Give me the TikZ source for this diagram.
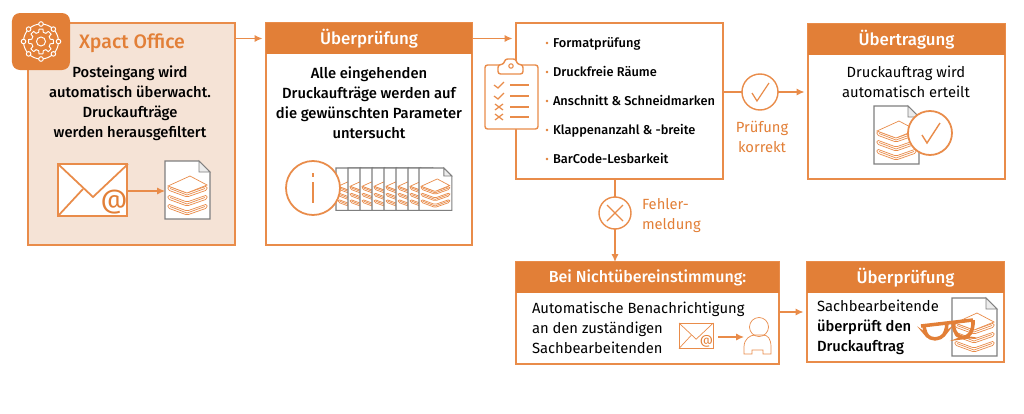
\documentclass[tikz,border=0pt]{standalone}
\usepackage{fontspec}
\setmainfont{Fira Sans}
\newfontfamily\medfont{Fira Sans Medium}
\usetikzlibrary{arrows.meta,positioning}
\definecolor{xorange}{HTML}{E27F37}
\definecolor{xline}{HTML}{E98C4A}
\definecolor{xlight}{HTML}{F5E3D6}
\definecolor{xgray}{HTML}{7F7F7F}
\newcommand{\bodysize}{\fontsize{8.4}{11.4}\selectfont}
\newcommand{\drawbooks}{
	\foreach \dy in {18,9,0} {
		\filldraw[iconline, fill=white, rounded corners=.3mm] (3,25+\dy) -- (22,32+\dy) -- (42,25+\dy) -- (42,29+\dy) -- (22,36+\dy) -- (3,29+\dy) -- cycle;
		\draw[iconline] (5,27.5+\dy) -- (22,34+\dy) -- (40,27.5+\dy);
	}
	\filldraw[iconline, fill=white] (3,25) -- (25,15) -- (42,24) -- (22,32) -- cycle;
}
\tikzset{
	every node/.style={outer sep=0, inner sep=0},
	flowbox/.style={draw=xline, line width=.65pt, fill=white, anchor=north west},
	headbox/.style={fill=xorange, text=white, anchor=north west, font=\medfont\fontsize{9.6}{11}\selectfont},
	bodytext/.style={align=center, text=black, font=\medfont\bodysize},
	plaintext/.style={align=left, anchor=west, text=black, font=\bodysize},
	orangetext/.style={text=xorange, font=\bodysize},
	flowarrow/.style={draw=xline, line width=.65pt, -{Latex[length=4.5pt,width=4pt]}},
	flowline/.style={draw=xline, line width=.65pt},
	ring/.style={circle, draw=xline, line width=.8pt, fill=white},
	iconline/.style={draw=xline, line width=.4pt},
	mailbox/.style={draw=xline, line width=1pt, fill=white, anchor=north west},
	pics/printdoc/.style={code={
		\filldraw[draw=xgray, line width=.6pt, fill=white] (0,0) -- (34,0) -- (45,11) -- (45,58) -- (0,58) -- cycle;
		\draw[draw=xgray, line width=.5pt, fill=gray!15] (34,0) -- (34,11) -- (45,11) -- cycle;
		\drawbooks
	}},
	pics/mailflaps/.style={code={
		\draw[#1] (0,0) -- (35,33) -- (70,0);
		\draw[#1] (0,52) -- (25,25);
		\node[text=xorange, transform shape, font=\fontsize{15}{15}\selectfont] at (56,38) {@};
	}},
	pics/mailflaps/.default={draw=xline, line width=1pt}
}

\begin{document}
\begin{tikzpicture}[x=.2mm, y=-.2mm]
	\useasboundingbox (0,0) rectangle (1024,413);
	% Boxes
	\node[flowbox, fill=xlight, minimum width=41.4mm, minimum height=44.4mm] (office) at (28,23) {};
	\node[flowbox, minimum width=41.2mm, minimum height=44.4mm] (check) at (266,23) {};
	\node[headbox, minimum width=41.2mm, minimum height=6.2mm] (checkhead) at (266,23) {Überprüfung};
	\node[flowbox, minimum width=41.4mm, minimum height=31.2mm] (params) at (516,23) {};
	\node[flowbox, minimum width=39.4mm, minimum height=31mm] (transfer) at (808,24) {};
	\node[headbox, minimum width=39.4mm, minimum height=6.2mm] (transferhead) at (808,24) {Übertragung};
	\node[flowbox, minimum width=52.6mm, minimum height=20.4mm] (mismatch) at (516,262) {};
	\node[headbox, minimum width=52.6mm, minimum height=6.2mm, font=\medfont\fontsize{9.1}{11}\selectfont] (mismatchhead) at (516,262) {Bei Nichtübereinstimmung:};
	\node[flowbox, minimum width=39.4mm, minimum height=20mm] (manual) at (807,262) {};
	\node[headbox, minimum width=39.4mm, minimum height=6.2mm] (manualhead) at (807,262) {Überprüfung};
	% Gear icon
	\node[fill=xorange, rounded corners=1.6mm, minimum width=11.6mm, minimum height=11.4mm] (gearicon) at (41,41.5) {};
	\begin{scope}[shift={(gearicon.center)}, white, line width=.55pt]
		\draw (0,0) circle (17.5);
		\foreach \a in {0,45,...,315} {
			\filldraw[fill=xorange] (\a:17.5) circle (2.3);
			\draw (\a-9:12.5) -- (\a+9:12.5) -- (\a+14:9.5) -- (\a+31:9.5) -- (\a+36:12.5);
		}
		\draw (0,0) circle (4.5);
	\end{scope}
	% Texts
	\node[text=xorange, anchor=west, font=\medfont\fontsize{11.1}{13}\selectfont] (officetitle) at (79,43) {Xpact Office};
	\node[bodytext] (officetext) at (130,103) {Posteingang wird\\automatisch überwacht.\\Druckaufträge\\werden herausgefiltert};
	\node[bodytext] (checktext) at (369,103) {Alle eingehenden\\Druckaufträge werden auf\\die gewünschten Parameter\\untersucht};
	\node[align=center, text=black, font=\bodysize] (transfertext) at (906,81.5) {Druckauftrag wird\\automatisch erteilt};
	\node[plaintext] (mismatchtext) at (532,327.5) {Automatische Benachrichtigung\\an den zuständigen\\Sachbearbeitenden};
	\node[plaintext] (manualtext) at (817,327.5) {Sachbearbeitende\\\medfont überprüft den\\\medfont Druckauftrag};
	% Parameter list
	\foreach \name/\ypos/\label in {a/43/Formatprüfung, b/72/Druckfreie Räume, c/101/Anschnitt \& Schneidmarken, d/130/Klappenanzahl \& -breite, e/159/BarCode-Lesbarkeit} {
		\node[anchor=base west, text=black, font=\medfont\fontsize{7.3}{9}\selectfont] (item\name) at (553,\ypos+4.5) {\label};
		\fill[xorange] (547,\ypos) circle (1.3);
	}
	% Clipboard
	\filldraw[draw=xline, line width=.8pt, fill=white, rounded corners=.5mm] (485,65) rectangle (538,129);
	\filldraw[draw=xline, line width=.8pt, fill=white, rounded corners=.5mm] (498,74) -- (498,65) -- (504,64) -- (505,59) -- (516,59) -- (517,64) -- (523,65) -- (523,74) -- cycle;
	\draw[xline, line width=.6pt] (511,66) circle (2.2);
	\foreach \ypos in {85,96} {
		\draw[xline, line width=.7pt] (494,\ypos) -- (498,\ypos+3) -- (504,\ypos-3);
	}
	\foreach \ypos in {107,117} {
		\draw[xline, line width=.7pt] (495,\ypos-3) -- (503,\ypos+3) (495,\ypos+3) -- (503,\ypos-3);
	}
	\foreach \ypos in {85,96,107,117} {
		\draw[xline, line width=.6pt] (510,\ypos) -- (529,\ypos);
	}
	% Icons of the first box
	\node[mailbox, minimum width=13.8mm, minimum height=10.4mm] (mailA) at (58,164) {};
	\pic at (mailA.north west) {mailflaps};
	\pic at (165,161) {printdoc};
	\coordinate (docA) at (165,191);
	\draw[flowarrow] (mailA.east |- docA) -- (docA);
	% Row of documents
	\foreach \xpos in {336,348,...,408,419} {
		\pic[scale=.73] at (\xpos,168) {printdoc};
	}
	\node[ring, minimum size=10.8mm, line width=1pt] (infocircle) at (313,188) {};
	\draw[xline, line width=.9pt] (313,173) -- (313,177);
	\draw[xline, line width=.9pt] (313,182) -- (313,203);
	% Document with check mark
	\pic at (874,106) {printdoc};
	\node[ring, minimum size=8.8mm, line width=1pt] (donecircle) at (930,133) {};
	\draw[xline, line width=.8pt] (922,135) -- (927,143) -- (940,123);
	% Status circles
	\node[ring, minimum size=7.2mm] (okcircle) at (760,92) {};
	\draw[xline, line width=.7pt] (752,93) -- (757,101) -- (769,83);
	\node[orangetext, align=center] (oktext) at (762,136.5) {Prüfung\\korrekt};
	\node[ring, minimum size=6.4mm] (errcircle) at (615,213) {};
	\draw[xline, line width=.7pt] (607,205) -- (623,221) (607,221) -- (623,205);
	\node[orangetext, align=left, anchor=west] (errtext) at (642,216) {Fehler-\\meldung};
	% Small mail and person
	\node[iconline, fill=white, anchor=north west, minimum width=6.8mm, minimum height=5mm] (mailB) at (679,323) {};
	\pic[scale=.49] at (mailB.north west) {mailflaps={draw=xline, line width=.4pt}};
	\draw[iconline] (759,327) circle (9.5);
	\draw[iconline] (744,354) -- (744,347) .. controls (744,339) and (750,335) .. (755,335) -- (763,335) .. controls (768,335) and (771,339) .. (771,347) -- (771,354) -- (763,354) -- (763,350) -- (752,350) -- (752,354) -- cycle;
	\coordinate (person) at (744,337);
	\draw[flowarrow] ([xshift=1mm]mailB.east |- person) -- (person);
	% Last document and glasses
	\pic at (952,298) {printdoc};
	\draw[xorange, line width=2pt, line join=round] (921,326) -- (973,320);
	\draw[xorange, line width=2pt, rounded corners=.9mm] (924,325) -- (925,333) -- (930,339) -- (941,338.5) -- (946,332) -- (947,323);
	\draw[xorange, line width=2pt, rounded corners=.9mm] (953,322) -- (954,331) -- (960,338) -- (968,337) -- (973,329) -- (973,320);
	% Connectors
	\coordinate (officeout) at (office.east |- checkhead);
	\draw[flowarrow, shorten >=2pt] (officeout) -- (checkhead);
	\coordinate (paramsin) at (params.west |- checkhead);
	\draw[flowarrow, shorten >=2pt] (checkhead) -- (paramsin);
	\draw[flowline] (params.east |- okcircle) -- (okcircle);
	\draw[flowarrow, shorten >=2pt] (okcircle) -- (transfer.west |- okcircle);
	\draw[flowline] (params.south -| errcircle) -- (errcircle);
	\draw[flowarrow] (errcircle) -- (mismatch.north -| errcircle);
	\coordinate (mismatchout) at (mismatch.east |- 0,312);
	\draw[flowarrow, shorten >=2pt] (mismatchout) -- (manual.west |- mismatchout);
\end{tikzpicture}
\end{document}
